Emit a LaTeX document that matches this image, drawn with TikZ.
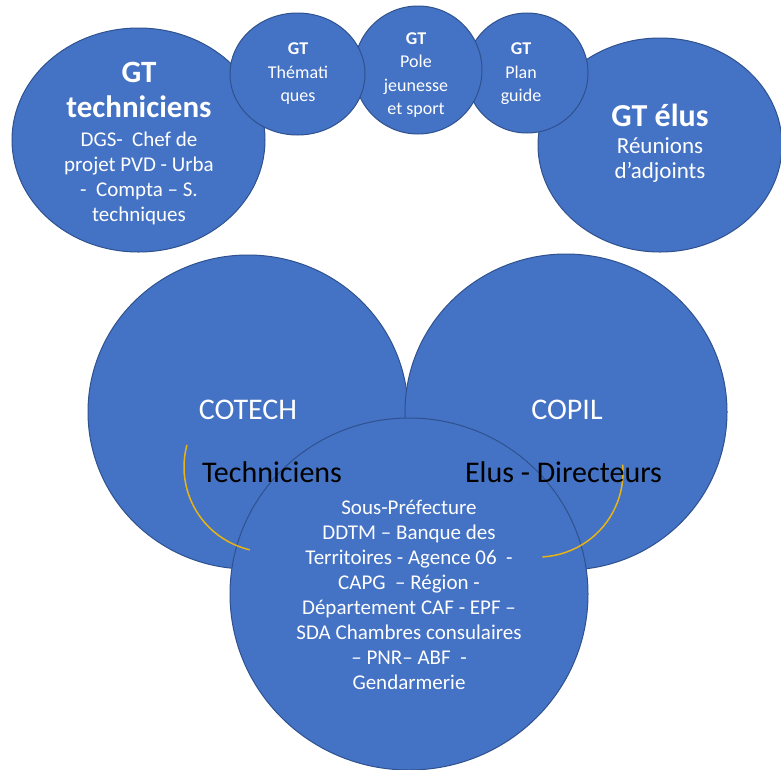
\documentclass[tikz,border=0pt]{standalone}
\usepackage{fontspec}
\setmainfont{Carlito}
\usetikzlibrary{shapes.geometric}
\definecolor{bleuoffice}{RGB}{68,114,196}
\definecolor{bordbleu}{RGB}{47,82,143}
\definecolor{jauneor}{RGB}{232,180,20}
\tikzset{
  bulle/.style={ellipse, draw=bordbleu, fill=bleuoffice, line width=1pt, inner sep=0pt},
  tblanc/.style={text=white, align=center, inner sep=0pt, font=\fontsize{21}{25}\selectfont},
  tpetit/.style={tblanc, font=\fontsize{18}{23.5}\selectfont},
  tnoir/.style={text=black, inner sep=0pt, font=\fontsize{30}{36}\selectfont},
  arcjaune/.style={draw=jauneor, line width=1.5pt}
}

\begin{document}
\begin{tikzpicture}[x=1pt, y=-1pt]
  \useasboundingbox[fill=white] (0,0) rectangle (781,769);
  % groupes de travail
  \node[bulle, minimum width=253, minimum height=224] (gttech) at (138.5,140) {};
  \node[bulle, minimum width=244, minimum height=214] (gtelus) at (660,145) {};
  \node[bulle, minimum width=122, minimum height=120] (gtplan) at (527,73) {};
  \node[bulle, minimum width=128, minimum height=128] (gtpole) at (418,70) {};
  \node[bulle, minimum width=135, minimum height=122] (gtthem) at (297.5,74) {};
  % comites
  \node[bulle, minimum width=320, minimum height=314] (cotech) at (248,412) {};
  \node[bulle, minimum width=322, minimum height=316] (copil) at (566,412) {};
  \node[bulle, minimum width=358, minimum height=352] (partenaires) at (409,594) {};
  % arcs
  \draw[arcjaune] (269,467) ++(195:85) arc[start angle=195, end angle=103, radius=85];
  \draw[arcjaune] (538,472) ++(-5:85) arc[start angle=-5, end angle=87, radius=85];
  % textes
  \node[tblanc, font=\fontsize{31}{35}\selectfont\bfseries] (gttech-titre) at (139,90) {GT\\techniciens};
  \node[tblanc] (gttech-corps) at (139,178) {DGS-~~Chef de\\projet PVD - Urba\\-~~Compta – S.\\techniques};
  \node[tpetit] (gtthem-t) at (298,74) {\textbf{GT}\\Thémati\\ques};
  \node[tpetit] (gtpole-t) at (416,75) {\textbf{GT}\\Pole\\jeunesse\\et sport};
  \node[tpetit] (gtplan-t) at (521,74) {\textbf{GT}\\Plan\\guide};
  \node[tblanc, font=\fontsize{32}{36}\selectfont\bfseries] (gtelus-titre) at (660,115) {GT élus};
  \node[tblanc, font=\fontsize{23}{25}\selectfont] (gtelus-corps) at (660,160) {Réunions\\d’adjoints};
  \node[tblanc, font=\fontsize{30}{36}\selectfont] (cotech-t) at (248,410) {COTECH};
  \node[tblanc, font=\fontsize{30}{36}\selectfont] (copil-t) at (567,410) {COPIL};
  \node[tnoir] (techniciens) at (272,472) {Techniciens};
  \node[tnoir] (elus) at (563.5,472) {Elus - Directeurs};
  \node[tblanc] (partenaires-t) at (409,594.5) {Sous-Préfecture\\DDTM – Banque des\\Territoires - Agence 06~~-\\CAPG~~– Région -\\Département CAF - EPF –\\SDA Chambres consulaires\\– PNR– ABF~~-\\Gendarmerie};
\end{tikzpicture}
\end{document}
